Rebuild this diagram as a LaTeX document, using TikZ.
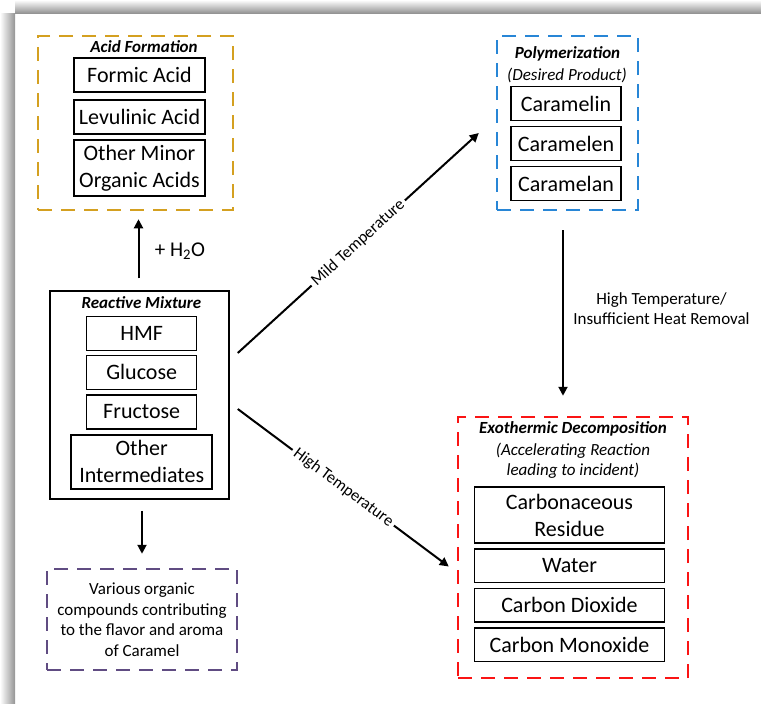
\documentclass[tikz,border=0pt]{standalone}
\usepackage{fontspec}
\setmainfont{Carlito}
\usetikzlibrary{arrows.meta, positioning}

\definecolor{acidgold}{RGB}{212,160,32}
\definecolor{polyblue}{RGB}{40,134,214}
\definecolor{exored}{RGB}{250,20,20}
\definecolor{aromapurple}{RGB}{96,76,130}

\begin{document}
\begin{tikzpicture}[x=1pt, y=-1pt, >={Triangle[length=9pt, width=9pt]}]
	\tikzset{
		itemnode/.style={rectangle, draw=black, line width=1.5pt, inner sep=0pt, align=center, font=\fontsize{22}{27}\selectfont},
		groupnode/.style={rectangle, line width=2.5pt, dash pattern=on 14pt off 9pt, inner sep=0pt},
		titlenode/.style={inner sep=0pt, font=\fontsize{17}{21}\selectfont\bfseries\itshape},
		subnode/.style={inner sep=0pt, align=center, font=\fontsize{17}{20.5}\selectfont\itshape},
		labelnode/.style={align=center, font=\fontsize{17}{20}\selectfont},
		flow/.style={->, line width=2pt},
	}
	\useasboundingbox (0,0) rectangle (761,704);
	\shade[top color=white, bottom color=black!42] (15,0) rectangle (761,13);
	\shade[left color=white, right color=black!42] (0,13) rectangle (15,704);

	\node[groupnode, draw=acidgold, minimum width=195pt, minimum height=174pt] (acid) at (135.5,123) {};
	\node[titlenode] (acidtitle) at (144,47) {Acid Formation};
	\node[itemnode, minimum width=131pt, minimum height=34pt] (formic) at (139.5,75) {Formic Acid};
	\node[itemnode, minimum width=131pt, minimum height=34pt, below=6.5pt of formic] (levulinic) {Levulinic Acid};
	\node[itemnode, minimum width=131pt, minimum height=56pt, below=4.5pt of levulinic] (minor) {Other Minor\\Organic Acids};

	\node[groupnode, draw=polyblue, minimum width=141pt, minimum height=174pt] (poly) at (567.5,123) {};
	\node[titlenode] (polytitle) at (567.5,54) {Polymerization};
	\node[subnode] (polysub) at (567,75) {(Desired Product)};
	\node[itemnode, minimum width=110pt, minimum height=34pt] (caramelin) at (566,103.5) {Caramelin};
	\node[itemnode, minimum width=110pt, minimum height=34pt, below=4.5pt of caramelin] (caramelen) {Caramelen};
	\node[itemnode, minimum width=110pt, minimum height=34pt, below=4.5pt of caramelen] (caramelan) {Caramelan};

	\node[rectangle, draw=black, line width=1.5pt, minimum width=179pt, minimum height=208pt] (mix) at (139.5,395) {};
	\node[titlenode] (mixtitle) at (141.4,302.5) {Reactive Mixture};
	\node[itemnode, minimum width=110pt, minimum height=34pt] (hmf) at (141.7,333.3) {HMF};
	\node[itemnode, minimum width=110pt, minimum height=34pt, below=3.5pt of hmf] (glucose) {Glucose};
	\node[itemnode, minimum width=110pt, minimum height=34pt, below=4pt of glucose] (fructose) {Fructose};
	\node[itemnode, minimum width=141pt, minimum height=54pt, below=4.5pt of fructose] (intermediates) {Other\\Intermediates};

	\node[groupnode, draw=aromapurple, minimum width=190pt, minimum height=101pt, align=center, font=\fontsize{17}{20.5}\selectfont] (aroma) at (142,619.5) {Various organic\\compounds contributing\\to the flavor and aroma\\of Caramel};

	\node[groupnode, draw=exored, minimum width=230pt, minimum height=261pt] (exo) at (573,547.5) {};
	\node[titlenode] (exotitle) at (573,429) {Exothermic Decomposition};
	\node[subnode] (exosub) at (573,460.7) {(Accelerating Reaction\\leading to incident)};
	\node[itemnode, minimum width=190pt, minimum height=56pt] (residue) at (569.5,515) {Carbonaceous\\Residue};
	\node[itemnode, minimum width=190pt, minimum height=33.5pt, below=4.5pt of residue] (water) {Water};
	\node[itemnode, minimum width=190pt, minimum height=33.5pt, below=4.5pt of water] (dioxide) {Carbon Dioxide};
	\node[itemnode, minimum width=190pt, minimum height=33.5pt, below=4.5pt of dioxide] (monoxide) {Carbon Monoxide};

	\draw[flow, shorten <=12pt, shorten >=8pt] ([xshift=-1pt]mix.north) -- ([xshift=-1pt]mix.north |- acid.south)
		node[midway, right=12pt, font=\fontsize{21}{25}\selectfont] {+ H\textsubscript{2}O};
	\draw[flow, shorten <=11pt, shorten >=14pt] (mix.south -| aroma.north) -- (aroma.north);
	\draw[flow, shorten <=19pt, shorten >=20pt] ([xshift=-4.5pt]poly.south) -- ([xshift=-4.5pt]poly.south |- exo.north)
		node[midway, right=6pt, yshift=5pt, labelnode] {High Temperature/\\Insufficient Heat Removal};

	\draw[flow] ([shift={(8pt,42pt)}]mix.east) -- node[sloped, fill=white, inner sep=3pt, font=\fontsize{16.5}{20}\selectfont] {Mild Temperature} ([shift={(-17pt,-10pt)}]poly.west);
	\draw[flow] ([shift={(8pt,-14pt)}]mix.east) -- node[sloped, fill=white, inner sep=3pt, font=\fontsize{16.5}{20}\selectfont] {High Temperature} ([shift={(-8pt,-19pt)}]exo.west);
\end{tikzpicture}
\end{document}
